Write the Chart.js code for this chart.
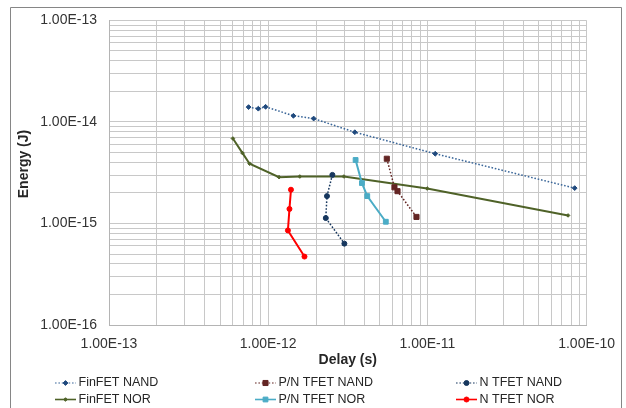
<!DOCTYPE html>
<html><head><meta charset="utf-8">
<script src="https://cdn.jsdelivr.net/npm/chart.js@4/dist/chart.umd.min.js"></script>
<style>html,body{margin:0;padding:0;background:#fff;}#wrap{width:626px;height:408px;position:relative;overflow:hidden;}</style>
</head><body><div id="wrap"><canvas id="c" width="626" height="408"></canvas></div>
<script>
// ---- data ----
const seriesNames = ['FinFET NAND','P/N TFET NAND','N TFET NAND','FinFET NOR','P/N TFET NOR','N TFET NOR'];

const finfetNandDelay  = [7.53e-13, 8.67e-13, 9.63e-13, 1.44e-12, 1.93e-12, 3.50e-12, 1.12e-11, 8.42e-11];
const finfetNandEnergy = [1.40e-14, 1.35e-14, 1.41e-14, 1.15e-14, 1.08e-14, 7.92e-15, 4.86e-15, 2.23e-15];

const pnTfetNandDelay  = [5.56e-12, 6.21e-12, 6.49e-12, 8.54e-12];
const pnTfetNandEnergy = [4.34e-15, 2.27e-15, 2.08e-15, 1.16e-15];

const nTfetNandDelay  = [2.53e-12, 2.34e-12, 2.30e-12, 3.01e-12];
const nTfetNandEnergy = [3.01e-15, 1.86e-15, 1.13e-15, 6.33e-16];

const finfetNorDelay  = [6.00e-13, 6.90e-13, 7.64e-13, 1.17e-12, 1.58e-12, 2.99e-12, 9.97e-12, 7.65e-11];
const finfetNorEnergy = [6.87e-15, 4.93e-15, 3.88e-15, 2.86e-15, 2.90e-15, 2.90e-15, 2.21e-15, 1.20e-15];

const pnTfetNorDelay  = [3.54e-12, 3.88e-12, 4.19e-12, 5.48e-12];
const pnTfetNorEnergy = [4.22e-15, 2.50e-15, 1.86e-15, 1.04e-15];

const nTfetNorDelay  = [1.39e-12, 1.36e-12, 1.33e-12, 1.69e-12];
const nTfetNorEnergy = [2.15e-15, 1.39e-15, 8.54e-16, 4.72e-16];

const xTickLabels = ['1.00E-13','1.00E-12','1.00E-11','1.00E-10'];
const yTickLabels = ['1.00E-16','1.00E-15','1.00E-14','1.00E-13'];
const xDecades = [-13,-12,-11,-10];
const yDecades = [-16,-15,-14,-13];
const xTitle = 'Delay (s)';
const yTitle = 'Energy (J)';

// ---- helpers ----
function pts(xs, ys){ return xs.map((x,i)=>({x:x, y:ys[i]})); }
function gridValues(decades){
  const v=[];
  for(let d=0; d<decades.length; d++){
    const base = Math.pow(10, decades[d]);
    if(d===decades.length-1){ v.push(base); break; }
    for(let m=1;m<=9;m++) v.push(parseFloat((m*base).toPrecision(3)));
  }
  return v;
}
function labelFor(decades, labels, value){
  for(let i=0;i<decades.length;i++){
    if(Math.abs(Math.log10(value)-decades[i])<1e-6) return labels[i];
  }
  return '';
}

const styles = [
  {line:'#3A6699', fill:'#1F497D', dash:[1.6,1.8], w:1.5, lw:1.2, ps:'rectRot', r:2.4},
  {line:'#632523', fill:'#632523', dash:[1.6,1.8], w:1.5, lw:1.2, ps:'rect',    r:3.6},
  {line:'#17375E', fill:'#17375E', dash:[1.6,1.8], w:1.5, lw:1.2, ps:'circle',  r:2.5},
  {line:'#4F6228', fill:'#4F6228', dash:[],        w:2,   lw:1.6, ps:'rectRot', r:1.8},
  {line:'#4BACC6', fill:'#4BACC6', dash:[],        w:2,   lw:1.6, ps:'rect',    r:3.4},
  {line:'#FF0000', fill:'#FF0000', dash:[],        w:2,   lw:1.6, ps:'circle',  r:2.5}
];
const seriesData = [
  pts(finfetNandDelay, finfetNandEnergy),
  pts(pnTfetNandDelay, pnTfetNandEnergy),
  pts(nTfetNandDelay, nTfetNandEnergy),
  pts(finfetNorDelay, finfetNorEnergy),
  pts(pnTfetNorDelay, pnTfetNorEnergy),
  pts(nTfetNorDelay, nTfetNorEnergy)
];
const drawOrder = [3,2,1,6,4,5];

const datasets = seriesNames.map((name,i)=>({
  label:name,
  data:seriesData[i],
  showLine:true,
  borderColor:styles[i].line,
  backgroundColor:styles[i].fill,
  borderWidth:styles[i].w,
  borderDash:styles[i].dash,
  pointStyle:styles[i].ps,
  pointRadius:styles[i].r,
  pointHoverRadius:styles[i].r,
  pointBackgroundColor:styles[i].fill,
  pointBorderColor:styles[i].fill,
  pointBorderWidth:1,
  tension:0,
  order:drawOrder[i]
}));

const FONT = '"Liberation Sans", Arial, sans-serif';

const framePlugin = {
  id:'frame',
  beforeDraw(chart){
    const ctx=chart.ctx;
    ctx.save();
    ctx.fillStyle='#ffffff';
    ctx.fillRect(0,0,chart.width,chart.height);
    ctx.strokeStyle='#868686';
    ctx.lineWidth=1;
    ctx.beginPath();
    ctx.moveTo(10.5,420); ctx.lineTo(10.5,7.5); ctx.lineTo(621.5,7.5); ctx.lineTo(621.5,420);
    ctx.stroke();
    ctx.restore();
  },
  afterDraw(chart){
    const ctx=chart.ctx;
    const ca=chart.chartArea;
    ctx.save();
    // axis titles
    ctx.fillStyle='#262626';
    ctx.font='bold 14px '+FONT;
    ctx.textAlign='center';
    ctx.textBaseline='middle';
    ctx.fillText(xTitle,(ca.left+ca.right)/2,360);
    ctx.save();
    ctx.translate(24,164);
    ctx.rotate(-Math.PI/2);
    ctx.fillText(yTitle,0,0);
    ctx.restore();
    // legend
    const colX=[55,255,456], rowY=[383,399.5];
    chart.data.datasets.forEach((ds,i)=>{
      const x=colX[i%3], y=rowY[Math.floor(i/3)];
      ctx.save();
      ctx.strokeStyle=ds.borderColor;
      ctx.lineWidth=styles[i].lw;
      ctx.setLineDash(ds.borderDash||[]);
      ctx.beginPath(); ctx.moveTo(x,y); ctx.lineTo(x+21,y); ctx.stroke();
      ctx.setLineDash([]);
      ctx.fillStyle=ds.pointBackgroundColor;
      ctx.strokeStyle=ds.pointBorderColor;
      ctx.lineWidth=ds.pointBorderWidth;
      Chart.helpers.drawPoint(ctx,{pointStyle:ds.pointStyle,radius:ds.pointRadius,borderWidth:ds.pointBorderWidth,rotation:0},x+10.5,y);
      ctx.fillStyle='#262626';
      ctx.font='12.5px '+FONT;
      ctx.textAlign='left';
      ctx.textBaseline='middle';
      ctx.fillText(ds.label,x+23.5,y);
      ctx.restore();
    });
    ctx.restore();
  }
};

const xGrid = gridValues(xDecades);
const yGrid = gridValues(yDecades);

new Chart(document.getElementById('c'),{
  type:'scatter',
  data:{datasets:datasets},
  options:{
    responsive:false,
    animation:false,
    devicePixelRatio:1,
    layout:{padding:{left:0,right:39,top:18,bottom:0}},
    plugins:{legend:{display:false},tooltip:{enabled:false}},
    scales:{
      x:{
        type:'logarithmic',
        position:'bottom',
        min:Math.pow(10,xDecades[0]),
        max:Math.pow(10,xDecades[xDecades.length-1]),
        grid:{color:'#c8c8c8',lineWidth:1,drawTicks:false},
        border:{color:'#b4b4b4'},
        afterBuildTicks(scale){ scale.ticks = xGrid.map(v=>({value:v})); },
        afterFit(scale){ scale.height = 83; },
        ticks:{
          autoSkip:false, maxRotation:0, minRotation:0, padding:11,
          color:'#333333', font:{family:FONT,size:14},
          callback:(v)=>labelFor(xDecades,xTickLabels,v)
        }
      },
      y:{
        type:'logarithmic',
        position:'left',
        min:Math.pow(10,yDecades[0]),
        max:Math.pow(10,yDecades[yDecades.length-1]),
        grid:{color:'#c8c8c8',lineWidth:1,drawTicks:false},
        border:{color:'#b4b4b4'},
        afterBuildTicks(scale){ scale.ticks = yGrid.map(v=>({value:v})); },
        afterFit(scale){ scale.width = 109; },
        ticks:{
          autoSkip:false, padding:12,
          color:'#333333', font:{family:FONT,size:14},
          callback:(v)=>labelFor(yDecades,yTickLabels,v)
        }
      }
    }
  },
  plugins:[framePlugin]
});
</script>
</body></html>
